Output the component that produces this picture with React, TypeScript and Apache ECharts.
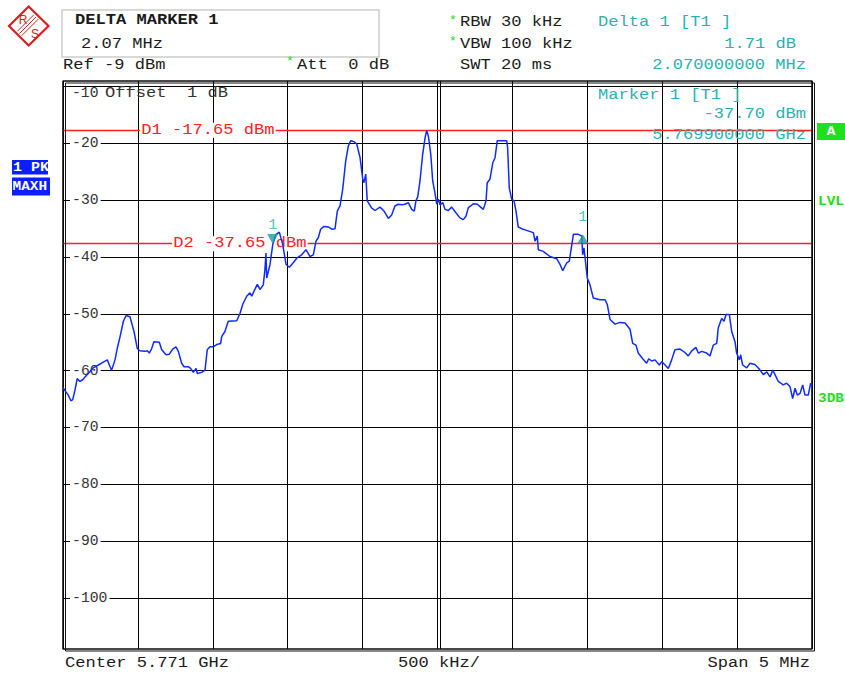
import React, { useEffect, useRef } from "react";
import * as echarts from "echarts";

// ---- data ----
// frequency: MHz from span start (center 5.771 GHz, span 5 MHz)
const traceFreq = [
  0.00, 0.035, 0.053, 0.065, 0.080, 0.095, 0.113, 0.132, 0.147, 0.180,
  0.202, 0.236, 0.269, 0.296, 0.314, 0.325, 0.336, 0.347, 0.362, 0.381,
  0.403, 0.421, 0.447, 0.474, 0.496, 0.514, 0.547, 0.563, 0.576, 0.592,
  0.607, 0.643, 0.659, 0.688, 0.710, 0.732, 0.754, 0.770, 0.792, 0.808,
  0.836, 0.852, 0.870, 0.888, 0.897, 0.926, 0.948, 0.963, 0.981, 1.003,
  1.026, 1.053, 1.059, 1.081, 1.103, 1.160, 1.182, 1.200, 1.226, 1.248,
  1.260, 1.270, 1.297, 1.315, 1.337, 1.348, 1.355, 1.360, 1.382, 1.400,
  1.422, 1.444, 1.467, 1.489, 1.511, 1.537, 1.560, 1.593, 1.622, 1.649,
  1.671, 1.689, 1.704, 1.720, 1.742, 1.771, 1.794, 1.816, 1.831, 1.849,
  1.867, 1.887, 1.905, 1.921, 1.943, 1.961, 1.983, 2.001, 2.009, 2.021,
  2.031, 2.061, 2.083, 2.116, 2.143, 2.172, 2.194, 2.216, 2.238, 2.261,
  2.283, 2.305, 2.328, 2.345, 2.356, 2.368, 2.383, 2.401, 2.417, 2.428,
  2.439, 2.455, 2.468, 2.483, 2.495, 2.505, 2.517, 2.535, 2.550, 2.572,
  2.595, 2.623, 2.650, 2.672, 2.690, 2.706, 2.722, 2.739, 2.766, 2.788,
  2.806, 2.824, 2.832, 2.850, 2.869, 2.884, 2.899, 2.928, 2.962, 2.968,
  2.979, 2.995, 3.011, 3.024, 3.039, 3.062, 3.095, 3.129, 3.140, 3.151,
  3.166, 3.173, 3.206, 3.251, 3.296, 3.318, 3.336, 3.363, 3.380, 3.407,
  3.440, 3.463, 3.469, 3.478, 3.500, 3.518, 3.540, 3.585, 3.618, 3.634,
  3.652, 3.685, 3.718, 3.752, 3.785, 3.803, 3.825, 3.840, 3.870, 3.896,
  3.910, 3.930, 3.952, 3.981, 3.997, 4.019, 4.041, 4.063, 4.085, 4.119,
  4.152, 4.174, 4.197, 4.225, 4.241, 4.264, 4.297, 4.319, 4.341, 4.364,
  4.374, 4.397, 4.413, 4.426, 4.448, 4.464, 4.486, 4.497, 4.515, 4.524,
  4.537, 4.564, 4.586, 4.619, 4.648, 4.675, 4.698, 4.720, 4.738, 4.753,
  4.775, 4.808, 4.831, 4.853, 4.871, 4.887, 4.902, 4.920, 4.938, 4.953,
  4.975, 4.991, 5.000,
];
const traceLevel = [
  -63.0, -64.3, -65.3, -65.1, -63.4, -61.4, -61.9, -61.6, -61.1, -60.2,
  -59.5, -59.0, -58.5, -58.1, -59.3, -59.9, -59.0, -58.1, -56.1, -54.0,
  -51.3, -50.3, -50.5, -53.1, -56.1, -56.5, -56.6, -56.5, -56.9, -56.1,
  -54.9, -55.0, -56.3, -57.2, -57.1, -56.2, -55.8, -56.6, -58.7, -59.3,
  -59.3, -59.6, -60.3, -59.6, -60.5, -60.3, -59.9, -56.3, -55.8, -55.8,
  -55.4, -55.2, -54.0, -53.1, -51.3, -51.2, -49.9, -48.3, -46.9, -46.3,
  -46.9, -46.3, -44.8, -45.7, -44.9, -42.2, -39.3, -43.7, -41.3, -37.8,
  -36.0, -35.6, -37.8, -41.3, -41.8, -41.0, -40.2, -39.6, -38.7, -39.9,
  -39.6, -37.2, -36.6, -35.1, -34.6, -34.7, -35.1, -35.0, -31.9, -31.0,
  -28.1, -23.1, -20.4, -19.5, -19.7, -20.1, -22.5, -26.3, -26.9, -25.4,
  -30.1, -31.4, -31.8, -31.2, -31.9, -33.2, -32.6, -31.0, -30.7, -30.8,
  -30.7, -30.4, -31.6, -31.9, -30.1, -29.4, -26.6, -21.9, -19.0, -17.7,
  -18.7, -21.9, -26.6, -28.7, -30.7, -29.8, -30.8, -30.4, -31.6, -31.8,
  -31.2, -32.2, -33.1, -33.4, -32.8, -31.3, -31.0, -30.6, -30.7, -31.2,
  -31.6, -30.1, -26.9, -26.3, -23.4, -22.5, -19.5, -19.5, -19.5, -20.7,
  -27.8, -29.8, -30.1, -31.9, -34.7, -35.0, -35.3, -35.6, -35.7, -37.2,
  -36.3, -38.7, -39.0, -39.9, -40.3, -41.3, -42.4, -41.0, -40.7, -36.0,
  -36.0, -36.3, -39.6, -38.4, -43.7, -44.9, -47.2, -47.5, -47.5, -48.4,
  -51.0, -51.8, -51.5, -51.6, -52.7, -55.2, -55.5, -56.9, -57.9, -58.7,
  -57.9, -58.3, -58.1, -59.0, -58.4, -59.0, -59.6, -58.1, -56.3, -56.2,
  -56.8, -57.4, -56.5, -55.9, -56.9, -56.6, -56.9, -57.4, -55.5, -55.2,
  -52.5, -50.8, -51.3, -50.1, -50.1, -53.1, -54.9, -56.9, -58.1, -57.2,
  -59.0, -59.5, -58.7, -58.9, -59.7, -60.7, -60.2, -61.1, -59.9, -60.7,
  -61.9, -62.5, -62.2, -62.8, -64.9, -63.1, -64.3, -64.0, -62.5, -64.3,
  -64.3, -62.2, -62.8,
];
const gridLevels = [-10, -20, -30, -40, -50, -60, -70, -80, -90, -100];
const displayLineNames = ["D1", "D2"];
const displayLineLevels = [-17.65, -37.65];
const marker1 = { freq: 1.4, level: -37.7, absFreqGHz: "5.769900000" };
const deltaMarker1 = { freq: 3.47, deltaMHz: 2.07, deltaDb: 1.71 };
const refLevel = -9;
const freqMin = 0;
const freqMax = 5;
const freqStep = 0.5;

const MONO = '"Liberation Mono", "DejaVu Sans Mono", monospace';
const TEAL = "#2bb0b0";
const RED = "#ff2020";
const GREEN = "#22dd22";
const BLUE = "#0f2bff";

function txt(text: string, x: number, y: number, o: any = {}) {
  const align = o.align || "left";
  return {
    type: "text",
    x,
    y,
    scaleX: o.sx ?? 1.14,
    z: o.z ?? 3,
    silent: true,
    style: {
      text,
      x: 0,
      y: 0,
      fill: o.color || "#1a1a1a",
      fontSize: o.size || 15,
      fontFamily: MONO,
      fontWeight: o.bold ? "bold" : "normal",
      align,
      textAlign: align,
      verticalAlign: "middle",
      textVerticalAlign: "middle",
      backgroundColor: o.bg,
      padding: o.pad,
    },
  };
}

export default function App() {
  const ref = useRef<HTMLDivElement>(null);
  useEffect(() => {
    if (!ref.current) return;
    const chart = echarts.init(ref.current, null, { renderer: "svg" });
    const trace = traceFreq.map((f, i) => [f, traceLevel[i]]);
    const deltaLevel = marker1.level + deltaMarker1.deltaDb;
    chart.setOption({
      animation: false,
      backgroundColor: "#ffffff",
      grid: {
        left: 63,
        right: 33,
        top: 81,
        bottom: 24,
        show: true,
        borderColor: "#000",
        borderWidth: 1,
        backgroundColor: "transparent",
      },
      xAxis: {
        type: "value",
        min: freqMin,
        max: freqMax,
        interval: freqStep,
        axisLine: { show: false },
        axisTick: { show: false },
        axisLabel: { show: false },
        splitLine: { show: true, lineStyle: { color: "#000", width: 1 } },
      },
      yAxis: {
        type: "value",
        min: refLevel - 100,
        max: refLevel,
        axisLine: { show: false },
        axisTick: { show: false },
        axisLabel: { show: false },
        splitLine: { show: false },
      },
      series: [
        {
          type: "line",
          data: trace,
          z: 5,
          showSymbol: false,
          symbol: "none",
          silent: true,
          lineStyle: { color: BLUE, width: 1.5 },
          markLine: {
            z: 1,
            silent: true,
            symbol: ["none", "none"],
            label: { show: false },
            data: [
              ...gridLevels.map((v) => ({
                yAxis: v,
                lineStyle: { color: "#000", width: 1, type: "solid" },
              })),
              {
                xAxis: (freqMin + freqMax) / 2 + 0.02,
                lineStyle: { color: "#000", width: 1, type: "solid" },
              },
              ...displayLineLevels.map((v) => ({
                yAxis: v,
                lineStyle: { color: RED, width: 1.3, type: "solid" },
              })),
            ],
          },
        },
        {
          type: "scatter",
          z: 6,
          silent: true,
          data: [[marker1.freq, marker1.level]],
          symbol: "triangle",
          symbolRotate: 180,
          symbolSize: [11, 10],
          symbolOffset: [0, "-50%"],
          itemStyle: { color: "#1a9c9c" },
          label: {
            show: true,
            formatter: "1",
            position: "top",
            distance: 1,
            color: TEAL,
            fontSize: 15,
            fontFamily: MONO,
          },
        },
        {
          type: "scatter",
          z: 6,
          silent: true,
          data: [[deltaMarker1.freq, deltaLevel]],
          symbol: "triangle",
          symbolSize: [11, 9],
          symbolOffset: [0, "50%"],
          itemStyle: { color: "#1a9c9c" },
          label: {
            show: true,
            formatter: "1",
            position: "top",
            distance: 9,
            color: TEAL,
            fontSize: 15,
            fontFamily: MONO,
          },
        },
      ],
    });

    const px = (f: number, l: number) =>
      chart.convertToPixel({ gridIndex: 0 }, [f, l]) as number[];
    const g: any[] = [];

    // double frame
    const tl = px(freqMin, refLevel);
    const br = px(freqMax, refLevel - 100);
    g.push({
      type: "rect",
      z: 4,
      silent: true,
      shape: { x: tl[0] + 2.5, y: tl[1] + 2, width: br[0] - tl[0], height: br[1] - tl[1] },
      style: { fill: "none", stroke: "#111", lineWidth: 1 },
    });
    g.push({
      type: "rect",
      z: 4,
      silent: true,
      shape: { x: tl[0], y: tl[1], width: br[0] - tl[0], height: br[1] - tl[1] },
      style: { fill: "none", stroke: "#111", lineWidth: 1.2 },
    });

    // tick labels
    gridLevels.forEach((v) => {
      const p = px(freqMin, v);
      if (v === -10) {
        g.push(txt(String(v), p[0] + 9, p[1] + 6.5, { size: 14, sx: 1.05, color: "#333" }));
      } else {
        g.push(
          txt(String(v), p[0] + 7, p[1], {
            size: 14,
            sx: 1.05,
            color: "#333",
            bg: "#fff",
            pad: [0, 2],
          })
        );
      }
    });
    const p10 = px(freqMin, -10);
    g.push(txt("Offset  1 dB", p10[0] + 42, p10[1] + 6.5, { color: "#333" }));

    // display line labels
    const dOffsets = [77, 109];
    displayLineLevels.forEach((v, i) => {
      const p = px(freqMin, v);
      g.push(
        txt(`${displayLineNames[i]} ${v.toFixed(2)} dBm`, p[0] + dOffsets[i], p[1], {
          color: RED,
          bg: "#fff",
          pad: [0, 1],
        })
      );
    });

    // header box
    g.push({
      type: "rect",
      silent: true,
      shape: { x: 62, y: 10, width: 317, height: 47 },
      style: { fill: "none", stroke: "#cccccc", lineWidth: 1.5 },
    });
    g.push(txt("DELTA MARKER 1", 75, 20, { bold: true }));
    g.push(txt(`${deltaMarker1.deltaMHz.toFixed(2)} MHz`, 81, 44));
    g.push(txt(`Ref ${refLevel} dBm`, 63, 65));
    g.push(txt("*", 286, 61, { color: GREEN, size: 13, sx: 1 }));
    g.push(txt("Att  0 dB", 297, 65));
    g.push(txt("*", 449, 20, { color: GREEN, size: 13, sx: 1 }));
    g.push(txt("RBW 30 kHz", 460, 22));
    g.push(txt("*", 449, 41, { color: GREEN, size: 13, sx: 1 }));
    g.push(txt("VBW 100 kHz", 460, 44));
    g.push(txt("SWT 20 ms", 460, 65));
    g.push(txt("Delta 1 [T1 ]", 598, 22, { color: TEAL }));
    g.push(txt(`${deltaMarker1.deltaDb.toFixed(2)} dB`, 796, 44, { color: TEAL, align: "right" }));
    g.push(
      txt(`${deltaMarker1.deltaMHz.toFixed(9)} MHz`, 806, 65, { color: TEAL, align: "right" })
    );
    g.push(txt("Marker 1 [T1 ]", 598, 95, { color: TEAL }));
    g.push(txt(`${marker1.level.toFixed(2)} dBm`, 806, 114, { color: TEAL, align: "right" }));
    g.push(txt(`${marker1.absFreqGHz} GHz`, 806, 135, { color: TEAL, align: "right" }));

    // bottom
    g.push(txt("Center 5.771 GHz", 65, 663));
    g.push(txt("500 kHz/", 398, 663));
    g.push(txt("Span 5 MHz", 810, 663, { align: "right" }));

    // left trace info boxes
    g.push({ type: "rect", silent: true, shape: { x: 12, y: 160, width: 36, height: 14.5 }, style: { fill: "#0a1eff" } });
    g.push({ type: "rect", silent: true, shape: { x: 12, y: 177.5, width: 38, height: 18 }, style: { fill: "#0a1eff" } });
    g.push(txt("1 PK", 13, 167.5, { color: "#fff", bold: true, size: 12, sx: 1.25 }));
    g.push(txt("MAXH", 12.5, 186.5, { color: "#fff", bold: true, size: 12, sx: 1.2 }));

    // right status
    g.push({ type: "rect", silent: true, shape: { x: 817, y: 123, width: 28, height: 17 }, style: { fill: "#1fe01f" } });
    g.push(txt("A", 831, 131.5, { color: "#fff", bold: true, size: 12, sx: 1.2, align: "center" }));
    g.push(txt("LVL", 818, 202, { color: GREEN, bold: true, size: 12, sx: 1.2 }));
    g.push(txt("3DB", 818, 399, { color: GREEN, bold: true, size: 12, sx: 1.2 }));

    // logo
    g.push({
      type: "group",
      silent: true,
      children: [
        {
          type: "polygon",
          shape: { points: [[28.7, 6.5], [48.5, 26], [28.7, 45.5], [9, 26]] },
          style: { fill: "#fff", stroke: "#d42020", lineWidth: 2.2 },
        },
        ...[-2.2, 0, 2.2].map((d) => ({
          type: "line",
          shape: { x1: 19.5 + d, y1: 33.5 + d, x2: 36 + d, y2: 17 + d },
          style: { stroke: "#d42020", lineWidth: 1 },
        })),
        {
          type: "text",
          style: { text: "R", x: 23, y: 20, fill: "#d42020", fontSize: 12, fontFamily: "Liberation Sans", align: "center", verticalAlign: "middle", textAlign: "center", textVerticalAlign: "middle" },
        },
        {
          type: "text",
          style: { text: "S", x: 35, y: 33.5, fill: "#d42020", fontSize: 12, fontFamily: "Liberation Sans", align: "center", verticalAlign: "middle", textAlign: "center", textVerticalAlign: "middle" },
        },
      ],
    });

    chart.setOption({ graphic: { elements: g } });
    return () => chart.dispose();
  }, []);
  return (
    <div
      ref={ref}
      style={{ position: "absolute", left: 0, top: 0, width: 845, height: 673, background: "#fff" }}
    />
  );
}
